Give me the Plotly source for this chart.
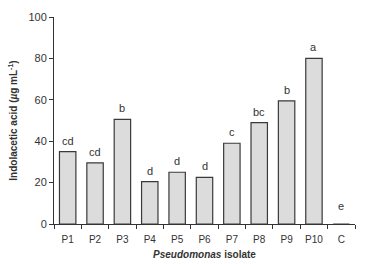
import plotly.graph_objects as go

categories = ["P1", "P2", "P3", "P4", "P5", "P6", "P7", "P8", "P9", "P10", "C"]
iaa_values = [35, 29.5, 50.5, 20.5, 25, 22.5, 39, 49, 59.5, 80, 0]
letters = ["cd", "cd", "b", "d", "d", "d", "c", "bc", "b", "a", "e"]
y_ticks = [0, 20, 40, 60, 80, 100]

FONT = "Liberation Sans Narrow, Arial Narrow, Liberation Sans, Arial, sans-serif"

fig = go.Figure()
fig.add_trace(go.Bar(
    x=categories, y=iaa_values,
    marker=dict(color="#dcdcdc", line=dict(color="#3a3a3a", width=1.2)),
    showlegend=False,
))
for cat, val, lab in zip(categories, iaa_values, letters):
    fig.add_annotation(
        x=cat, y=val, text=lab, showarrow=False, yanchor="bottom",
        yshift=3 if val > 0 else 10,
        font=dict(family=FONT, size=11, color="#333333"),
    )
fig.update_layout(
    width=367, height=264,
    margin=dict(l=54, r=12, t=17, b=40),
    paper_bgcolor="white", plot_bgcolor="white",
    bargap=0.4, showlegend=False,
    font=dict(family=FONT, size=11, color="#333333"),
)
fig.update_xaxes(
    type="category", showline=True, linecolor="#333333", linewidth=1,
    ticks="outside", tickson="boundaries", ticklen=4, tickcolor="#333333",
    tickangle=0, tickfont=dict(size=10), ticklabelstandoff=6, automargin=False,
    title=dict(text="<b><i>Pseudomonas</i> isolate</b>", font=dict(size=10), standoff=6),
)
fig.update_yaxes(
    range=[0, 100], tickvals=y_ticks, showline=True, linecolor="#333333", linewidth=1,
    ticks="outside", ticklen=4, tickcolor="#333333", showgrid=False, zeroline=False,
    tickfont=dict(size=11), automargin=False,
    title=dict(text="<b>Indolacetic acid (<i>µ</i>g mL<sup>-1</sup>)</b>", font=dict(size=10), standoff=8),
)
fig.write_html("out.html", config={"displayModeBar": False},
               post_script="document.body.style.margin='0';")
